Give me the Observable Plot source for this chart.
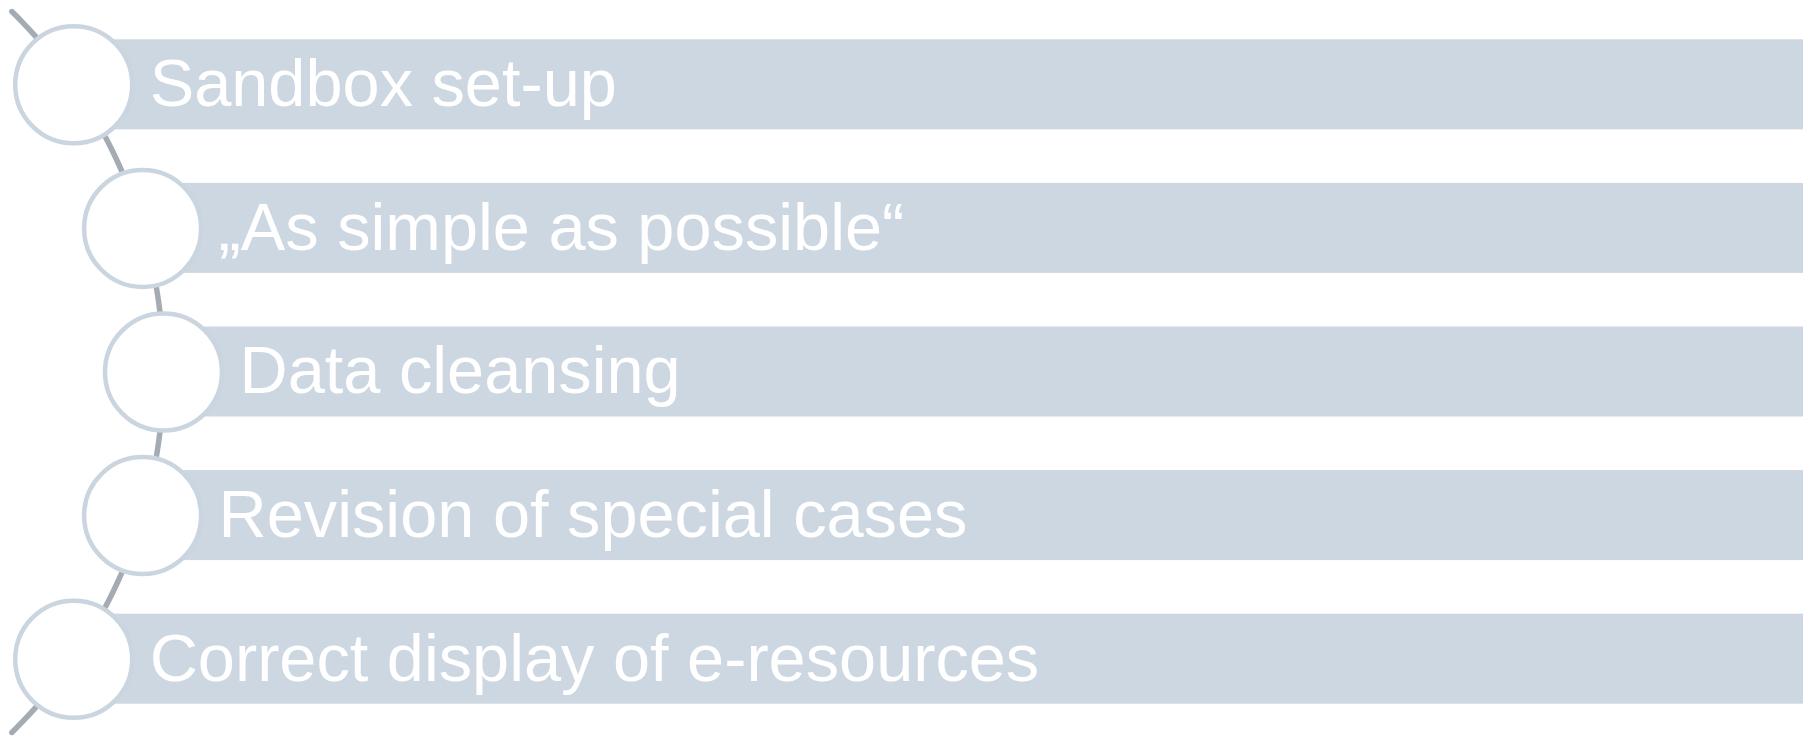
<!DOCTYPE html>
<html>
<head>
<meta charset="utf-8">
<script src="https://cdn.jsdelivr.net/npm/d3@7"></script>
<script src="https://cdn.jsdelivr.net/npm/@observablehq/plot@0.6"></script>
<style>
  html, body { margin: 0; padding: 0; background: #ffffff; }
  #chart svg { display: block; }
</style>
</head>
<body>
<div id="chart"></div>
<script>
// ---- data ----
const steps = [
  "Sandbox set-up",
  "„As simple as possible“",
  "Data cleansing",
  "Revision of special cases",
  "Correct display of e-resources"
];
const order = [0, 1, 2, 3, 4];

// ---- layout (diagram geometry) ----
const W = 1812, H = 738;
const rowStep = 143.6;          // px between rows
const firstRow = 84.3;          // px of first row centre
const arcR = 504.2;             // px radius of the guiding arc
const arcCx = -341.2;           // px x of arc centre
const midRow = 2;               // arc centre sits at the middle row
const barHalf = 45 / rowStep;   // half bar height in row units
const barRight = 1803;

const arcX = i => arcCx + Math.sqrt(arcR * arcR - Math.pow((i - midRow) * rowStep, 2));

const nodes = order.map(i => ({ i, label: steps[i], cx: arcX(i) }));

const arcPts = d3.range(0, 121).map(k => {
  const t0 = -0.51, t1 = 4.51;
  const i = t0 + (t1 - t0) * k / 120;
  return { x: arcX(i), y: i };
});

const chart = Plot.plot({
  width: W,
  height: H,
  margin: 0,
  style: { background: "#ffffff", overflow: "visible" },
  x: { domain: [0, W], range: [0, W], axis: null },
  y: { domain: [-firstRow / rowStep, (H - firstRow) / rowStep], range: [0, H], axis: null },
  marks: [
    Plot.line(arcPts, { x: "x", y: "y", stroke: "#a4abb3", strokeWidth: 5.5, strokeLinecap: "round", curve: "linear" }),
    Plot.rect(nodes, { x1: "cx", x2: () => barRight, y1: d => d.i - barHalf, y2: d => d.i + barHalf, fill: "#cdd7e1" }),
    Plot.dot(nodes, { x: "cx", y: "i", r: 58.5, fill: "#ffffff", stroke: "#cbd5df", strokeWidth: 4.5 }),
    Plot.text(nodes, {
      x: d => d.cx + 76, y: "i", text: "label",
      textAnchor: "start", fill: "#ffffff",
      fontSize: 66.7, fontFamily: "Liberation Sans, Arial, sans-serif"
    })
  ]
});
document.getElementById("chart").appendChild(chart);
</script>
</body>
</html>
